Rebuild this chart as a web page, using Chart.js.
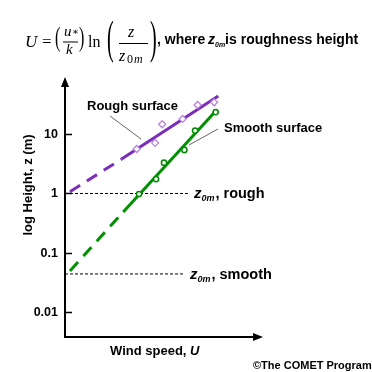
<!DOCTYPE html>
<html lang="en">
<head>
    <meta charset="UTF-8">
    <title>Log wind profile</title>
    <script src="https://cdn.jsdelivr.net/npm/chart.js"></script>
    <style>
        body { margin: 0; background: #fff; }
        #chart { display: block; }
    </style>
</head>
<body>
    <canvas id="chart" width="372" height="372"></canvas>
    <script>
        // wind speed (arbitrary units) and height z (m)
        var roughDashX = [0.25, 2.86];
        var roughDashZ = [1.07, 3.8];
        var roughFitX = [2.86, 7.74];
        var roughFitZ = [3.8, 43.5];
        var roughObsX = [3.62, 4.55, 4.91, 5.94, 6.70, 7.53];
        var roughObsZ = [5.6, 7.1, 14.6, 17.9, 30.7, 34.1];

        var smoothDashX = [0.25, 2.94];
        var smoothDashZ = [0.050, 0.49];
        var smoothFitX = [2.94, 7.66];
        var smoothFitZ = [0.49, 25.3];
        var smoothObsX = [3.74, 4.60, 5.00, 6.03, 6.57, 7.61];
        var smoothObsZ = [0.98, 1.75, 3.3, 5.4, 11.4, 23.4];

        // roughness heights and how far the dotted guide runs
        var z0mRough = 1;
        var z0mSmooth = 0.0444;
        var guideEndX = [6.26, 6.06];

        var yTicks = [0.01, 0.1, 1, 10];
        var yTickLabels = ['0.01', '0.1', '1', '10'];

        var sans = '"Liberation Sans", Arial, sans-serif';
        var serif = '"Liberation Serif", "DejaVu Serif", serif';

        function pts(xs, ys) {
            return xs.map(function(x, i) { return { x: x, y: ys[i] }; });
        }

        // z with a 0m subscript, returns x after the text
        function zSub(ctx, x, y, size, subSize) {
            ctx.font = 'italic bold ' + size + 'px ' + sans;
            ctx.fillText('z', x, y);
            x += ctx.measureText('z').width;
            ctx.font = 'italic bold ' + subSize + 'px ' + sans;
            ctx.fillText('0m', x, y + size * 0.2);
            return x + ctx.measureText('0m').width + 1;
        }

        // thin stretched delimiter, centred on cy
        function paren(ctx, ch, x, cy, size, sy) {
            ctx.save();
            ctx.font = size + 'px ' + serif;
            ctx.textBaseline = 'alphabetic';
            ctx.translate(x, cy);
            ctx.scale(1, sy);
            ctx.fillText(ch, 0, 0.24 * size);
            ctx.restore();
        }

        function drawFormula(ctx) {
            ctx.fillStyle = '#000';
            ctx.strokeStyle = '#000';
            ctx.textAlign = 'left';
            ctx.textBaseline = 'alphabetic';
            ctx.font = 'italic 17px ' + serif;
            ctx.fillText('U', 25, 47);
            ctx.font = '17px ' + serif;
            ctx.fillText('=', 42, 47);
            paren(ctx, '(', 55, 40, 16, 1.65);
            ctx.font = 'italic 15px ' + serif;
            ctx.fillText('u', 64, 36);
            ctx.font = '10px ' + serif;
            ctx.fillText('\u2217', 72, 35);
            ctx.lineWidth = 1;
            ctx.beginPath(); ctx.moveTo(63, 42); ctx.lineTo(78, 42); ctx.stroke();
            ctx.font = 'italic 15px ' + serif;
            ctx.fillText('k', 66, 54);
            paren(ctx, ')', 79, 40, 16, 1.65);
            ctx.font = '16px ' + serif;
            ctx.fillText('ln', 88, 47);
            paren(ctx, '(', 107, 42, 20, 2.3);
            ctx.font = 'italic 16px ' + serif;
            ctx.fillText('z', 128, 37);
            ctx.beginPath(); ctx.moveTo(119, 43.5); ctx.lineTo(148, 43.5); ctx.stroke();
            ctx.fillText('z', 119, 61);
            ctx.font = '12px ' + serif;
            ctx.fillText('0', 127, 63);
            ctx.font = 'italic 12px ' + serif;
            ctx.fillText('m', 134, 63);
            paren(ctx, ')', 150, 42, 20, 2.3);

            ctx.font = 'bold 14px ' + sans;
            ctx.fillText(', where', 157, 44);
            var x = zSub(ctx, 208, 44, 14, 7);
            ctx.font = 'bold 14px ' + sans;
            ctx.fillText('is roughness height', x - 1, 44);
        }

        var decor = {
            id: 'decor',
            afterDraw: function(chart) {
                var ctx = chart.ctx;
                var a = chart.chartArea;
                var ys = chart.scales.y;
                var xs = chart.scales.x;
                ctx.save();

                // axes with arrow heads
                ctx.strokeStyle = '#000';
                ctx.fillStyle = '#000';
                ctx.lineWidth = 2;
                ctx.beginPath();
                ctx.moveTo(a.left, a.top + 6);
                ctx.lineTo(a.left, a.bottom);
                ctx.lineTo(a.right - 6, a.bottom);
                ctx.stroke();
                ctx.beginPath();
                ctx.moveTo(a.left, a.top);
                ctx.lineTo(a.left - 4, a.top + 10);
                ctx.lineTo(a.left + 4, a.top + 10);
                ctx.closePath();
                ctx.fill();
                ctx.beginPath();
                ctx.moveTo(a.right, a.bottom);
                ctx.lineTo(a.right - 10, a.bottom - 4);
                ctx.lineTo(a.right - 10, a.bottom + 4);
                ctx.closePath();
                ctx.fill();

                // ticks and labels
                ctx.lineWidth = 1.5;
                ctx.font = 'bold 12.5px ' + sans;
                ctx.textAlign = 'right';
                ctx.textBaseline = 'middle';
                yTicks.forEach(function(v, i) {
                    var py = Math.round(ys.getPixelForValue(v)) + 0.5;
                    ctx.beginPath();
                    ctx.moveTo(a.left, py);
                    ctx.lineTo(a.left + 7, py);
                    ctx.stroke();
                    ctx.fillText(yTickLabels[i], a.left - 7, py);
                });

                // axis titles
                ctx.save();
                ctx.translate(28, 185);
                ctx.rotate(-Math.PI / 2);
                ctx.textAlign = 'center';
                ctx.font = 'bold 13px ' + sans;
                ctx.fillText('log Height, z (m)', 0, 0);
                ctx.restore();

                ctx.textAlign = 'left';
                ctx.textBaseline = 'middle';
                ctx.font = 'bold 13px ' + sans;
                var t = 'Wind speed, ';
                ctx.fillText(t, 110, 351);
                var tw = ctx.measureText(t).width;
                ctx.font = 'italic bold 13px ' + sans;
                ctx.fillText('U', 110 + tw, 351);

                // curve labels with pointer lines
                ctx.font = 'bold 13px ' + sans;
                ctx.fillText('Rough surface', 87, 106);
                ctx.fillText('Smooth surface', 224, 128);
                ctx.strokeStyle = '#666';
                ctx.lineWidth = 1;
                ctx.beginPath();
                ctx.moveTo(110, 116); ctx.lineTo(141, 139);
                ctx.moveTo(218, 129); ctx.lineTo(189, 145);
                ctx.stroke();

                // z0m labels at the end of the dotted guides
                ctx.textBaseline = 'alphabetic';
                var yr = ys.getPixelForValue(z0mRough) + 5;
                var xr = zSub(ctx, xs.getPixelForValue(guideEndX[0]) + 5, yr, 15, 9);
                ctx.font = 'bold 14.5px ' + sans;
                ctx.fillText(', rough', xr, yr);
                var ysm = ys.getPixelForValue(z0mSmooth) + 5;
                var xsm = zSub(ctx, xs.getPixelForValue(guideEndX[1]) + 5, ysm, 15, 9);
                ctx.font = 'bold 14.5px ' + sans;
                ctx.fillText(', smooth', xsm, ysm);

                ctx.font = 'bold 11px ' + sans;
                ctx.textBaseline = 'middle';
                ctx.fillText('\u00a9The COMET Program', 253, 366);

                drawFormula(ctx);
                ctx.restore();
            }
        };

        var purple = '#7a2db8';
        var green = '#009000';

        new Chart(document.getElementById('chart'), {
            type: 'scatter',
            data: {
                datasets: [
                    { data: pts(roughObsX, roughObsZ), pointStyle: 'rectRot', pointRadius: 3.5,
                      borderColor: '#b784dc', backgroundColor: '#fff', borderWidth: 1.3 },
                    { data: pts(smoothObsX, smoothObsZ), pointStyle: 'circle', pointRadius: 2.6,
                      borderColor: '#008a00', backgroundColor: '#fff', borderWidth: 1.5 },
                    { data: pts(roughFitX, roughFitZ), showLine: true, pointRadius: 0,
                      borderColor: purple, borderWidth: 3 },
                    { data: pts(roughDashX, roughDashZ), showLine: true, pointRadius: 0,
                      borderColor: purple, borderWidth: 3, borderDash: [12, 8] },
                    { data: pts(smoothFitX, smoothFitZ), showLine: true, pointRadius: 0,
                      borderColor: green, borderWidth: 3 },
                    { data: pts(smoothDashX, smoothDashZ), showLine: true, pointRadius: 0,
                      borderColor: green, borderWidth: 3, borderDash: [12, 8] },
                    { data: pts([0, guideEndX[0]], [z0mRough, z0mRough]), showLine: true, pointRadius: 0,
                      borderColor: '#000', borderWidth: 1, borderDash: [3, 2] },
                    { data: pts([0, guideEndX[1]], [z0mSmooth, z0mSmooth]), showLine: true, pointRadius: 0,
                      borderColor: '#000', borderWidth: 1, borderDash: [3, 2] }
                ]
            },
            options: {
                responsive: false,
                animation: false,
                devicePixelRatio: 1,
                layout: { padding: { left: 65, right: 109, top: 77, bottom: 35 } },
                plugins: { legend: { display: false }, tooltip: { enabled: false } },
                scales: {
                    x: { type: 'linear', min: 0, max: 10, display: false },
                    y: { type: 'logarithmic', min: 0.00387, max: 90.8, display: false }
                }
            },
            plugins: [decor]
        });
    </script>
</body>
</html>
